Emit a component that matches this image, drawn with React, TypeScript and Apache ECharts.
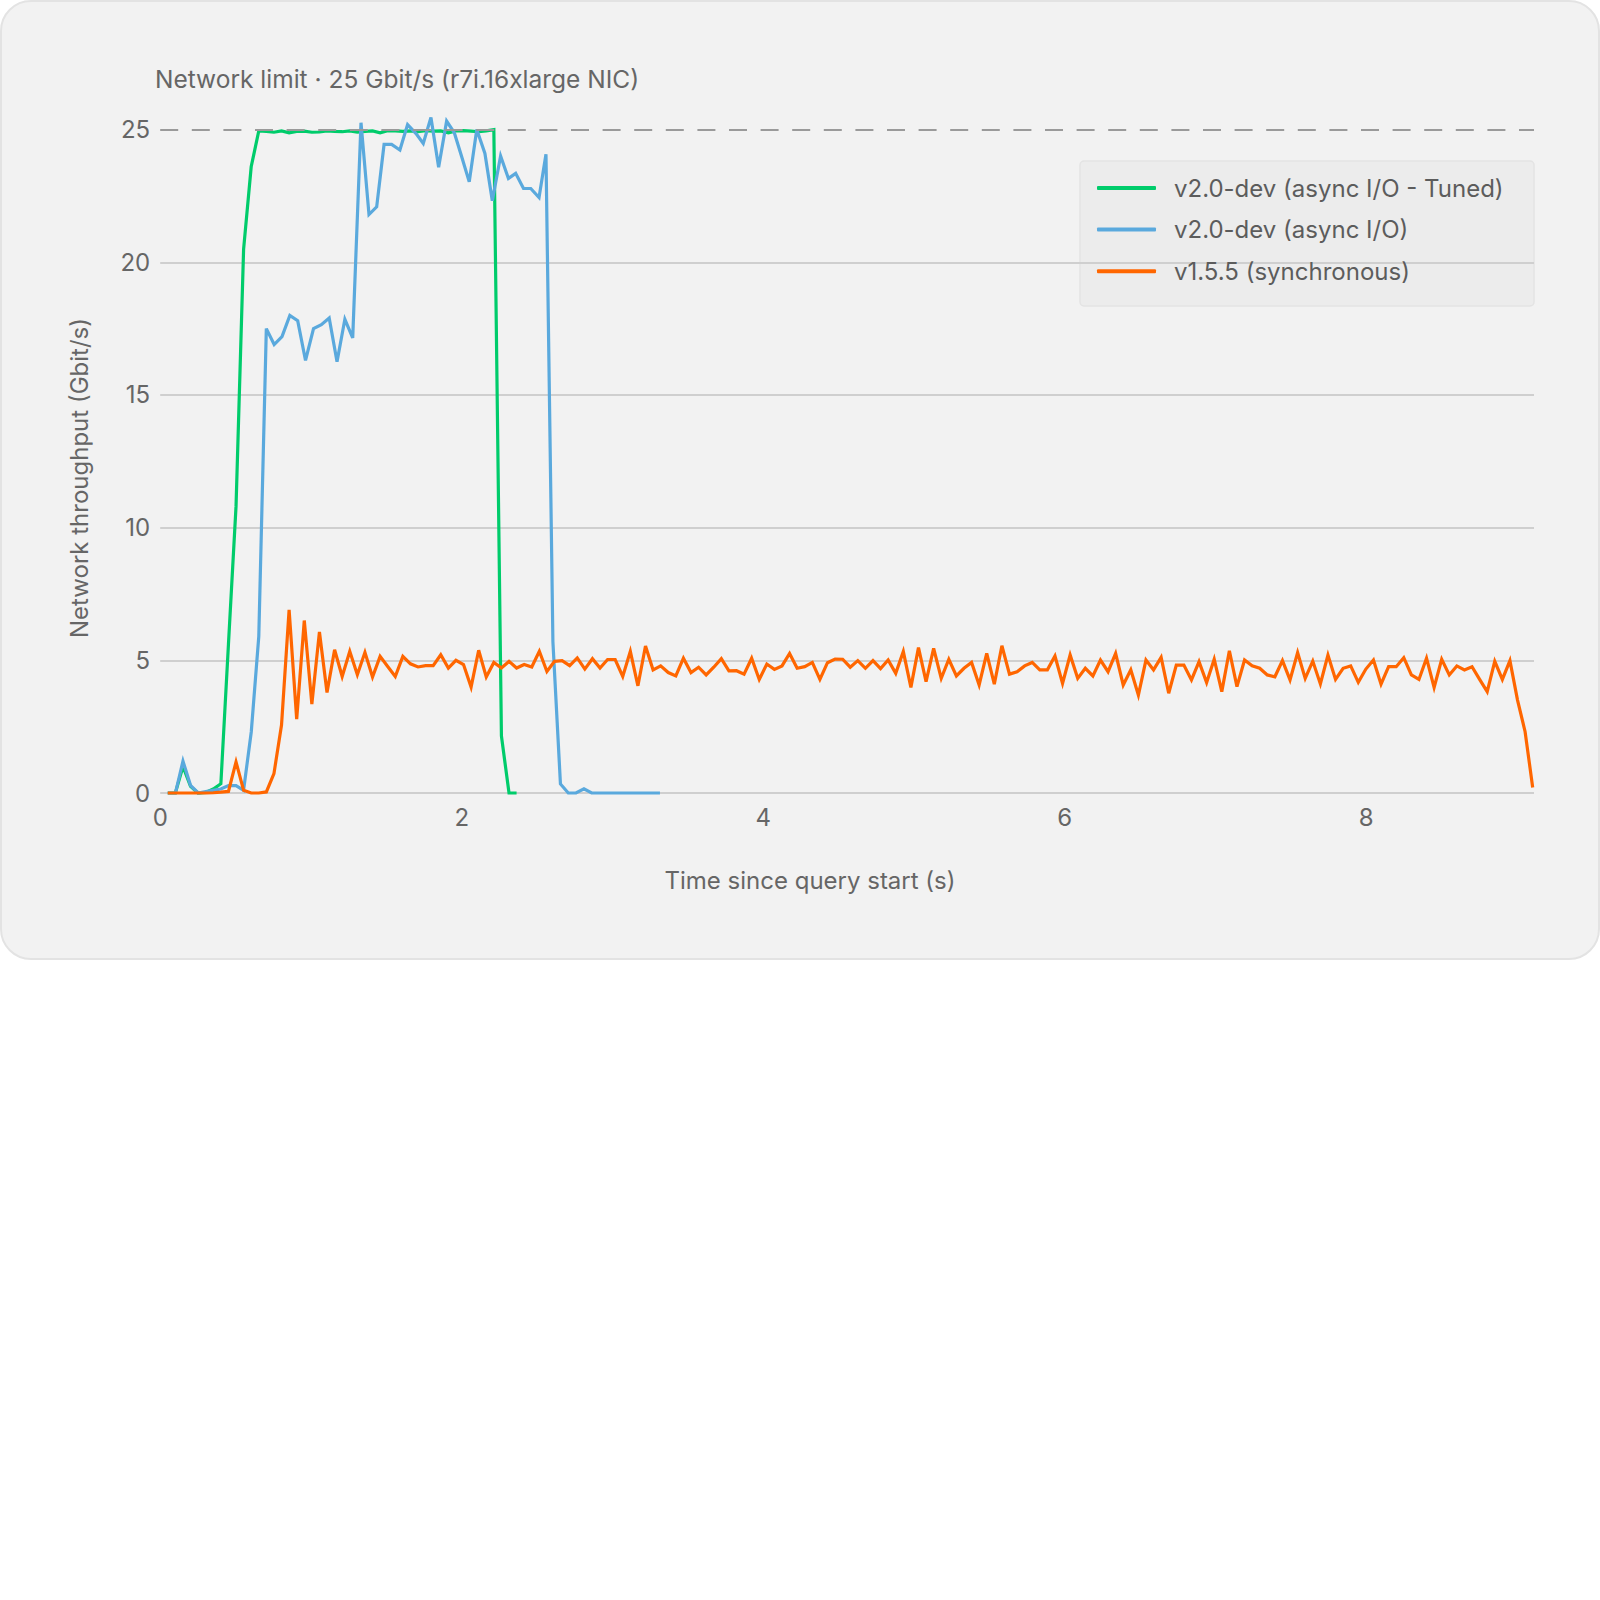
import React, { useEffect, useRef } from "react";
import * as echarts from "echarts";

const FONT = "Inter, 'Noto Sans', sans-serif";

const SAMPLE_INTERVAL_S = 0.0503;

const seriesNames = [
  "v2.0-dev (async I/O - Tuned)",
  "v2.0-dev (async I/O)",
  "v1.5.5 (synchronous)",
];
const seriesColors = ["#00cc6b", "#5aa9dd", "#ff6600"];

const xTickLabels = [0, 2, 4, 6, 8];
const yTickLabels = [0, 5, 10, 15, 20, 25];
const NETWORK_LIMIT = 25;

// v2.0-dev (async I/O - Tuned): one value per sample
const greenValues = [
  0, 0, 1.0, 0.25, 0, 0.02, 0.15, 0.35, 5.6, 10.8, 20.5, 23.6, 24.95,
  24.93, 24.9, 24.95, 24.88, 24.93, 24.94, 24.9, 24.91, 24.95, 24.93,
  24.92, 24.95, 24.9, 24.93, 24.95, 24.88, 24.96, 24.95, 24.93, 24.95,
  24.92, 24.96, 24.94, 24.95, 24.88, 24.95, 24.96, 24.94, 24.92, 24.95,
  25.0, 2.15, 0, 0,
];

// v2.0-dev (async I/O): timestamps
const blueTimes = [
  0.05, 0.101, 0.151, 0.201, 0.252, 0.302, 0.352, 0.402, 0.453, 0.503,
  0.553, 0.604, 0.654, 0.704, 0.756, 0.808, 0.86, 0.912, 0.964, 1.017,
  1.069, 1.121, 1.173, 1.225, 1.277, 1.332, 1.385, 1.436, 1.485, 1.535,
  1.59, 1.641, 1.697, 1.745, 1.796, 1.847, 1.9, 1.951, 2.0, 2.05, 2.1,
  2.154, 2.203, 2.258, 2.31, 2.358, 2.41, 2.458, 2.513, 2.559, 2.605,
  2.655, 2.707, 2.758, 2.811, 2.862, 2.913, 2.963, 3.014, 3.064, 3.115,
  3.165, 3.215, 3.265, 3.315,
];
const blueValues = [
  0, 0, 1.2, 0.29, 0, 0.05, 0.1, 0.15, 0.28, 0.28, 0.1, 2.3, 5.9, 17.5,
  16.9, 17.2, 18.0, 17.8, 16.3, 17.5, 17.65, 17.9, 16.25, 17.85, 17.15,
  25.26, 21.8, 22.09, 24.44, 24.44, 24.23, 25.19, 24.85, 24.48, 25.46,
  23.58, 25.32, 24.88, 23.98, 23.03, 25.0, 24.1, 22.32, 24.01, 23.16,
  23.35, 22.78, 22.78, 22.44, 24.07, 5.7, 0.34, 0, 0, 0.16, 0, 0, 0, 0,
  0, 0, 0, 0, 0, 0,
];

// v1.5.5 (synchronous): one value per sample
const orangeValues = [
  0, 0, 0, 0, 0, 0, 0.01, 0.03, 0.06, 1.17,
  0.1, 0, 0, 0.04, 0.73, 2.56, 6.9, 2.78, 6.5, 3.35,
  6.07, 3.79, 5.4, 4.39, 5.34, 4.46, 5.3, 4.37, 5.15, 4.77,
  4.39, 5.15, 4.87, 4.75, 4.8, 4.8, 5.21, 4.71, 5.0, 4.84,
  3.99, 5.38, 4.37, 4.92, 4.71, 4.96, 4.71, 4.84, 4.75, 5.34,
  4.58, 4.96, 4.99, 4.8, 5.09, 4.67, 5.06, 4.71, 5.03, 5.03,
  4.39, 5.34, 4.04, 5.54, 4.64, 4.79, 4.54, 4.41, 5.08, 4.54,
  4.74, 4.45, 4.74, 5.06, 4.6, 4.61, 4.48, 5.08, 4.28, 4.86,
  4.66, 4.79, 5.26, 4.7, 4.76, 4.92, 4.28, 4.91, 5.05, 5.04,
  4.74, 4.99, 4.7, 4.99, 4.69, 5.01, 4.51, 5.33, 3.98, 5.48,
  4.2, 5.45, 4.32, 5.04, 4.41, 4.7, 4.92, 4.07, 5.26, 4.1,
  5.55, 4.48, 4.57, 4.79, 4.92, 4.64, 4.64, 5.16, 4.13, 5.2,
  4.32, 4.7, 4.41, 5.01, 4.57, 5.26, 4.07, 4.64, 3.69, 5.01,
  4.64, 5.11, 3.76, 4.82, 4.82, 4.26, 4.95, 4.16, 5.04, 3.82,
  5.36, 4.01, 5.01, 4.79, 4.7, 4.45, 4.38, 4.99, 4.26, 5.29,
  4.32, 4.97, 4.11, 5.2, 4.28, 4.7, 4.79, 4.17, 4.67, 5.01,
  4.1, 4.76, 4.76, 5.1, 4.45, 4.28, 5.08, 3.98, 5.04, 4.45,
  4.79, 4.64, 4.76, 4.28, 3.82, 4.96, 4.28, 4.99, 3.5, 2.31,
  0.21,
];

const X_MAX = 9.113;

function sampled(values: number[]) {
  return values.map((v, i) => [Number(((i + 1) * SAMPLE_INTERVAL_S).toFixed(4)), v]);
}

export default function App() {
  const ref = useRef<HTMLDivElement>(null);

  useEffect(() => {
    if (!ref.current) return;
    const chart = echarts.init(ref.current, undefined, { renderer: "svg" });

    const lineSeries = (name: string, color: string, data: number[][], z: number) => ({
      name,
      type: "line",
      data,
      showSymbol: false,
      symbol: "none",
      clip: false,
      z,
      lineStyle: { color, width: 3.2, join: "miter" },
      itemStyle: { color },
      emphasis: { disabled: true },
    });

    chart.setOption({
      animation: false,
      backgroundColor: "#ffffff",
      textStyle: { fontFamily: FONT },
      graphic: [
        {
          type: "rect",
          z: -10,
          shape: { x: 1, y: 1, width: 1598, height: 958, r: 30 },
          style: { fill: "#f2f2f2", stroke: "#e3e3e3", lineWidth: 2 },
        },
        {
          type: "rect",
          z: -5,
          shape: { x: 1080, y: 161, width: 454, height: 145, r: 4 },
          style: { fill: "#ececec", stroke: "#e3e3e3", lineWidth: 1.5 },
        },
        {
          type: "text",
          x: 155,
          y: 79,
          style: {
            text: "Network limit · 25 Gbit/s (r7i.16xlarge NIC)",
            fill: "#666666",
            font: `24.5px ${FONT}`,
            textAlign: "left",
            textVerticalAlign: "middle",
          },
        },
        {
          type: "text",
          x: 810,
          y: 880,
          style: {
            text: "Time since query start (s)",
            fill: "#666666",
            font: `24px ${FONT}`,
            textAlign: "center",
            textVerticalAlign: "middle",
          },
        },
        {
          type: "text",
          x: 79,
          y: 478,
          rotation: Math.PI / 2,
          style: {
            text: "Network throughput (Gbit/s)",
            fill: "#666666",
            font: `24px ${FONT}`,
            textAlign: "center",
            textVerticalAlign: "middle",
          },
        },
      ],
      legend: {
        orient: "vertical",
        left: 1097,
        top: 173,
        padding: 0,
        itemWidth: 59,
        itemHeight: 4,
        itemGap: 11.6,
        icon: "roundRect",
        selectedMode: false,
        data: seriesNames,
        textStyle: {
          fontFamily: FONT,
          fontSize: 24,
          color: "#5c5c5c",
          lineHeight: 30,
          padding: [0, 0, 0, 13],
        },
      },
      grid: { left: 160.2, right: 66, top: 129.6, bottom: 807, containLabel: false },
      xAxis: {
        type: "value",
        min: 0,
        max: X_MAX,
        interval: 2,
        axisLine: { show: false },
        axisTick: { show: false },
        splitLine: { show: false },
        axisLabel: {
          color: "#666666",
          fontSize: 24,
          fontFamily: FONT,
          margin: 12,
          showMaxLabel: false,
          formatter: (v: number) => (xTickLabels.includes(v) ? String(v) : ""),
        },
      },
      yAxis: {
        type: "value",
        min: 0,
        max: 25,
        interval: 5,
        axisLine: { show: false },
        axisTick: { show: false },
        axisLabel: {
          color: "#666666",
          fontSize: 24,
          fontFamily: FONT,
          margin: 10,
          formatter: (v: number) => (yTickLabels.includes(v) ? String(v) : ""),
        },
        splitLine: {
          show: true,
          lineStyle: {
            color: ["#cfcfcf", "#cfcfcf", "#cfcfcf", "#cfcfcf", "#cfcfcf", "rgba(0,0,0,0)"],
            width: 2,
          },
        },
      },
      series: [
        {
          name: "limit",
          type: "line",
          data: [],
          z: 1,
          markLine: {
            silent: true,
            symbol: ["none", "none"],
            label: { show: false },
            lineStyle: { color: "#9a9a9a", width: 2, type: [18, 13.6] },
            data: [{ yAxis: NETWORK_LIMIT }],
          },
        },
        lineSeries(seriesNames[0], seriesColors[0], sampled(greenValues), 2),
        lineSeries(
          seriesNames[1],
          seriesColors[1],
          blueTimes.map((t, i) => [t, blueValues[i]]),
          3
        ),
        lineSeries(seriesNames[2], seriesColors[2], sampled(orangeValues), 4),
      ],
    });

    return () => chart.dispose();
  }, []);

  return (
    <div
      ref={ref}
      style={{ position: "absolute", left: 0, top: 0, width: 1600, height: 1600 }}
    />
  );
}
